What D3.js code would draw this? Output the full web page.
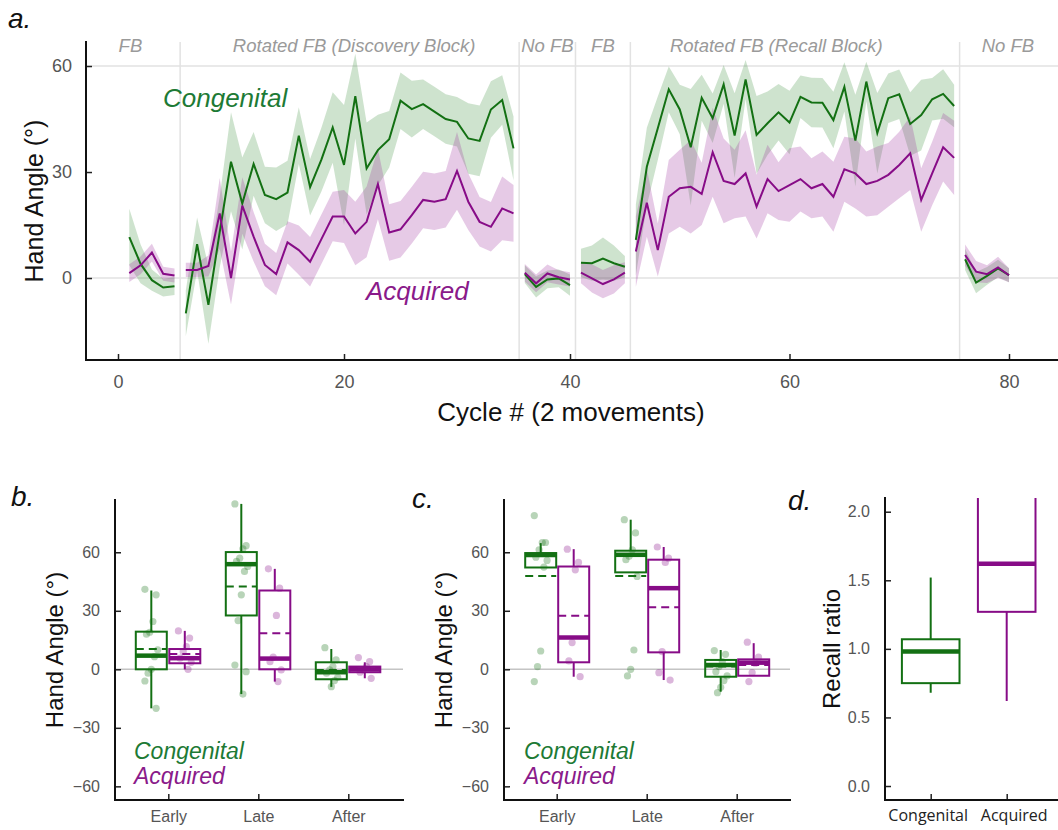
<!DOCTYPE html>
<html>
<head>
<meta charset="utf-8">
<script src="https://cdn.jsdelivr.net/npm/d3@7"></script>
<style>
  body { margin: 0; background: #fff; }
  svg { display: block; font-family: 'Liberation Sans', Arial, sans-serif; }
  .tick text { fill: #555; }
  .tick line { stroke: #222; stroke-width: 1.5; }
</style>
</head>
<body>
<svg id="chart" width="1058" height="830"></svg>
<script>
// ---- data ----
// panel a: blocks of cycles
const blockNames = ['FB', 'Rotated FB (Discovery Block)', 'No FB', 'FB', 'Rotated FB (Recall Block)', 'No FB'];
const blockStart = [1, 6, 36, 41, 46, 76];
const blockEnd = [5, 35, 40, 45, 75, 80];
const blockLabelAt = [1.1, 20.9, 38, 43, 58.8, 79.9];

const cycles = d3.range(1, 81);
const congMean = [
  11.6, 4, -0.6, -2.7, -2.3,
  -10, 9.6, -7.6, 13, 32.9, 21.1, 32.3, 23.5, 22.3, 24.2,
  40.3, 25.7, 33.5, 42.6, 32, 51.5, 31, 36.2, 39.3, 50.2,
  47.8, 49.2, 47.1, 45, 44.2, 39.5, 38.8, 47.7, 50.4, 36.7,
  1.1, -2.5, -0.4, -0.1, -2,
  4.3, 4.2, 5.5, 4.2, 3.2,
  10.8, 31.5, 42.4, 53.4, 47.7, 37, 51, 45.2, 54.8, 40.3,
  56.2, 40.5, 43.8, 46.9, 44, 51.3, 49.7, 49.6, 44.7, 54.1,
  38.9, 55.6, 41, 50.9, 52, 43.6, 46.1, 50.6, 52.1, 48.7,
  5.3, -1.3, 0.6, 2.7, 0.8
];
const congSE = [
  8, 5.5, 3, 2.5, 2.5,
  6.5, 7.5, 11, 10, 14, 13, 9, 8, 9, 9,
  8, 8, 9, 10, 17, 12, 13, 10, 8, 8,
  8, 7, 7, 7, 7, 10, 10, 8, 7, 9,
  2.5, 3, 2.5, 2.5, 3,
  4, 5, 6, 5, 3,
  10, 11, 9, 6.5, 7, 16.5, 6.5, 7, 5.5, 12,
  5.5, 11, 9, 8, 9, 6, 7, 7, 8, 7,
  13, 5.6, 11.4, 7, 7, 9, 10, 6, 7, 6,
  3, 3, 2.5, 2.5, 2
];
const acqMean = [
  1.4, 3.6, 7.2, 1.2, 0.7,
  2.3, 2.3, 3.4, 18.3, 0, 20.5, 11.7, 3.7, 1.1, 10.1,
  7.9, 4.6, 11, 17.4, 17.4, 12.6, 15.9, 26.6, 12.9, 13.8,
  17.8, 22.1, 21.6, 22.3, 30.3, 21.6, 15.9, 14.5, 19.7, 18.3,
  1.5, -1.5, 1.3, 0.2, -0.4,
  1.5, -0.1, -1.7, -0.4, 1.5,
  7.5, 21.3, 7.9, 23, 25.4, 25.8, 23.8, 35.6, 27.5, 26.6,
  29.6, 20.2, 28, 24.6, 26.3, 28, 25.4, 26.6, 23, 30.8,
  29.6, 26.6, 27.5, 29.2, 32, 35.3, 22.1, 29.6, 37, 34,
  6.5, 1.8, 1.1, 3, 0.8
];
const acqSE = [
  2.5, 2.5, 2.5, 2, 2,
  2, 2, 3, 10, 7.5, 8, 7, 6, 6, 6,
  7, 7, 7, 7, 7.5, 9, 10, 10, 8, 8,
  8, 8, 8, 8, 11, 8, 7, 7, 9, 8,
  2.5, 2.5, 2.5, 2, 2,
  3, 4, 4, 4, 3,
  10, 9.6, 7.5, 10.4, 10.9, 13.2, 8.8, 12.6, 12, 9.7,
  12.2, 9, 9.7, 8.2, 10.4, 9.2, 8.5, 9.2, 9.9, 9.2,
  9.9, 9.2, 9.7, 9, 9.4, 10.4, 9, 9, 9.7, 10.5,
  3, 3, 2.5, 3, 2
];

// panels b, c: [low whisker, q1, median, q3, high whisker, mean] per phase
const phases = ['Early', 'Late', 'After'];
const discCongBox = [[-20, 0, 7, 19.3, 40.4, 10.4], [-12.7, 27.6, 53.9, 60.1, 84.8, 42.5], [-9, -5.1, -1.5, 3.6, 10.4, -0.3]];
const discAcqBox = [[0, 3.1, 5.7, 10.4, 19.7, 7.9], [-6.3, 0, 5.5, 40.4, 51.5, 18.5], [-4.6, -1.5, 0, 1.4, 3.6, 0.5]];
const discCongDots = [[41, 38.2, 24.5, 19, 18, 10, 6.5, 0, -2, -6, -20], [84.8, 63.4, 61.8, 57, 55.3, 52.7, 50.2, 38.2, 25, 2.2, -1.2, -12.7], [11.1, 4.8, 1.4, -0.3, -2, -4.1, -5.8, -8.9]];
const discAcqDots = [[19.7, 16, 11.6, 9, 5.7, 3.6, 0], [51.5, 41.6, 27.6, 6.2, 3.9, -0.3, -6.3], [6, 3.9, 1.4, -0.3, -1.5, -4.6]];

const recCongBox = [[52.2, 52.2, 58.6, 59.6, 64.7, 47.9], [49.7, 49.7, 58.7, 60.8, 76.7, 47.9], [-11.5, -3.8, 2.2, 4.8, 9.9, 1.4]];
const recAcqBox = [[-3.8, 3.6, 16.3, 52.7, 61.6, 27.4], [-5.5, 8.7, 41.6, 56.2, 62.7, 31.8], [-3.3, -3.3, 3.4, 5.1, 13.4, 2.2]];
const recCongDots = [[78.8, 65, 65, 61.3, 57.5, 55.8, 52.4, 9.4, 1.4, -6.3], [76.7, 69.9, 61.3, 57.9, 56.2, 47.6, 9.9, 0, -3.4], [9.6, 7.7, 3.9, 1.4, -1.2, -3.4, -5.8, -9.2, -12]];
const recAcqDots = [[61.6, 54.8, 51, 13.7, 4.3, -3.8], [62.7, 57, 54.8, 9.1, -1.7, -5.5], [13.9, 6.2, 3.1, -1.7, -6.3]];

// panel d: [low whisker, q1, median, q3, high whisker]
const groups = ['Congenital', 'Acquired'];
const ratioBox = [[0.68, 0.75, 0.98, 1.07, 1.52], [0.62, 1.27, 1.62, 2.4, 2.9]];

// ---- styles ----
const green = '#137013';
const purple = '#870c87';
const greenText = '#1d7a35';
const purpleText = '#8a1a8a';

const svg = d3.select('#chart');

function styleAxis(g, size) {
  g.attr('font-family', null).attr('font-size', size);
  g.select('.domain').remove();
}

function axisLine(g, x1, y1, x2, y2) {
  g.append('line')
    .attr('x1', x1).attr('y1', y1).attr('x2', x2).attr('y2', y2)
    .attr('stroke', '#111').attr('stroke-width', 2)
    .attr('stroke-linecap', 'square');
}

function label(g, text, x, y, opts) {
  const o = opts || {};
  const t = g.append('text').attr('x', x).attr('y', y).text(text)
    .attr('font-size', o.size || 16)
    .attr('fill', o.fill || '#111')
    .attr('text-anchor', o.anchor || 'start');
  if (o.italic) t.attr('font-style', 'italic');
  if (o.rotate) t.attr('transform', `rotate(-90,${x},${y})`);
  if (o.family) t.attr('font-family', o.family);
  return t;
}

// ---- panel a ----
const xA = d3.scaleLinear().domain([0, 40, 80]).range([118, 570, 1009]);
const yA = d3.scaleLinear().domain([-23.2, 66.8]).range([360, 42]);
const gA = svg.append('g');

gA.selectAll('.grid')
  .data([0, 60])
  .enter()
  .append('line')
  .attr('x1', 86).attr('x2', 1058)
  .attr('y1', d => yA(d)).attr('y2', d => yA(d))
  .attr('stroke', '#e2e2e2').attr('stroke-width', 1.5);

gA.selectAll('.sep')
  .data(blockEnd.slice(0, -1))
  .enter()
  .append('line')
  .attr('x1', d => xA(d + 0.5)).attr('x2', d => xA(d + 0.5))
  .attr('y1', 42).attr('y2', 360)
  .attr('stroke', '#e2e2e2').attr('stroke-width', 1.5);

gA.selectAll('.block-label')
  .data(blockNames)
  .enter()
  .append('text')
  .attr('x', (d, i) => xA(blockLabelAt[i]))
  .attr('y', 52)
  .attr('text-anchor', 'middle')
  .attr('font-style', 'italic')
  .attr('font-size', 18.5)
  .attr('fill', '#9a9a9a')
  .text(d => d);

const series = [
  { mean: congMean, se: congSE, color: green, band: '#3a8f3a' },
  { mean: acqMean, se: acqSE, color: purple, band: '#9a2a9a' }
];

const area = d3.area()
  .x(d => xA(d.c))
  .y0(d => yA(d.m - d.s))
  .y1(d => yA(d.m + d.s));
const line = d3.line()
  .x(d => xA(d.c))
  .y(d => yA(d.m));

function blockPoints(s, b) {
  return cycles
    .map((c, i) => ({ c, m: s.mean[i], s: s.se[i] }))
    .filter(d => d.c >= blockStart[b] && d.c <= blockEnd[b]);
}

series.forEach(s => {
  blockNames.forEach((n, b) => {
    gA.append('path')
      .attr('d', area(blockPoints(s, b)))
      .attr('fill', s.band)
      .attr('fill-opacity', 0.25);
  });
});
series.forEach(s => {
  blockNames.forEach((n, b) => {
    gA.append('path')
      .attr('d', line(blockPoints(s, b)))
      .attr('fill', 'none')
      .attr('stroke', s.color)
      .attr('stroke-width', 2);
  });
});

gA.append('g')
  .attr('transform', 'translate(86,0)')
  .call(d3.axisLeft(yA).tickValues([0, 30, 60]).tickSizeInner(-6).tickSizeOuter(0).tickPadding(14))
  .call(g => styleAxis(g, 18));
gA.append('g')
  .attr('transform', 'translate(0,360)')
  .call(d3.axisBottom(xA).tickValues([0, 20, 40, 60, 80]).tickSizeInner(-6).tickSizeOuter(0).tickPadding(15))
  .call(g => styleAxis(g, 18));
axisLine(gA, 86, 42, 86, 360);
axisLine(gA, 86, 360, 1058, 360);

label(gA, 'Hand Angle (°)', 43, 201, { size: 25, rotate: true, anchor: 'middle' });
label(gA, 'Cycle # (2 movements)', 571, 421, { size: 26, anchor: 'middle' });
label(gA, 'Congenital', 163, 107, { size: 26, italic: true, fill: greenText });
label(gA, 'Acquired', 366, 300, { size: 26, italic: true, fill: purpleText });
label(gA, 'a.', 8, 28, { size: 28, italic: true });

// ---- boxes ----
function drawBox(g, cx, w, st, color, y, clipId) {
  const [lo, q1, med, q3, hi, mean] = st;
  const bg = g.append('g');
  if (clipId) bg.attr('clip-path', `url(#${clipId})`);
  bg.append('line')
    .attr('x1', cx).attr('x2', cx).attr('y1', y(lo)).attr('y2', y(q1))
    .attr('stroke', color).attr('stroke-width', 2);
  bg.append('line')
    .attr('x1', cx).attr('x2', cx).attr('y1', y(q3)).attr('y2', y(hi))
    .attr('stroke', color).attr('stroke-width', 2);
  bg.append('rect')
    .attr('x', cx - w / 2).attr('width', w)
    .attr('y', y(q3)).attr('height', y(q1) - y(q3))
    .attr('fill', 'none').attr('stroke', color).attr('stroke-width', 2);
  bg.append('line')
    .attr('x1', cx - w / 2).attr('x2', cx + w / 2).attr('y1', y(med)).attr('y2', y(med))
    .attr('stroke', color).attr('stroke-width', 4.5);
  if (mean !== undefined) {
    bg.append('line')
      .attr('x1', cx - w / 2).attr('x2', cx + w / 2).attr('y1', y(mean)).attr('y2', y(mean))
      .attr('stroke', color).attr('stroke-width', 2)
      .attr('stroke-dasharray', '8,5');
  }
}

function drawDots(g, cx, vals, color, y) {
  g.selectAll(null)
    .data(vals)
    .enter()
    .append('circle')
    .attr('cx', (d, i) => cx + ((i * 7) % 9 - 4) * 1.6)
    .attr('cy', d => y(d))
    .attr('r', 3.6)
    .attr('fill', color)
    .attr('fill-opacity', 0.3);
}

function boxPanel(opts) {
  const g = svg.append('g');
  const y = d3.scaleLinear().domain([-67, 86.8]).range([800, 500]);
  const x = d3.scalePoint().domain(phases).range([opts.x0, opts.x0 + 180]);

  g.append('line')
    .attr('x1', opts.axisX).attr('x2', opts.axisEnd)
    .attr('y1', y(0)).attr('y2', y(0))
    .attr('stroke', '#c4c4c4').attr('stroke-width', 1.5);

  phases.forEach((p, i) => {
    drawDots(g, x(p) + opts.off[0], opts.congDots[i], green, y);
    drawDots(g, x(p) + opts.off[1], opts.acqDots[i], purple, y);
    drawBox(g, x(p) + opts.off[0], 31, opts.congBox[i], green, y);
    drawBox(g, x(p) + opts.off[1], 31, opts.acqBox[i], purple, y);
  });

  g.append('g')
    .attr('transform', `translate(${opts.axisX},0)`)
    .call(d3.axisLeft(y).tickValues([-60, -30, 0, 30, 60]).tickSizeInner(-6).tickSizeOuter(0).tickPadding(15))
    .call(a => styleAxis(a, 16));
  g.append('g')
    .attr('transform', 'translate(0,800)')
    .call(d3.axisBottom(x).tickSizeInner(-6).tickSizeOuter(0).tickPadding(11))
    .call(a => styleAxis(a, 16));
  axisLine(g, opts.axisX, 500, opts.axisX, 800);
  axisLine(g, opts.axisX, 800, opts.axisEnd, 800);

  label(g, 'Hand Angle (°)', opts.titleX, 650, { size: 24, rotate: true, anchor: 'middle' });
  label(g, 'Congenital', opts.legendX, 759, { size: 23, italic: true, fill: greenText });
  label(g, 'Acquired', opts.legendX, 784, { size: 23, italic: true, fill: purpleText });
  label(g, opts.letter, opts.letterX, opts.letterY, { size: 28, italic: true });
}

boxPanel({
  x0: 168.3, axisX: 115, axisEnd: 403, off: [-17, 16.5],
  congBox: discCongBox, acqBox: discAcqBox, congDots: discCongDots, acqDots: discAcqDots,
  titleX: 63, legendX: 134, letter: 'b.', letterX: 11, letterY: 506
});
boxPanel({
  x0: 556.7, axisX: 504, axisEnd: 790, off: [-16, 17],
  congBox: recCongBox, acqBox: recAcqBox, congDots: recCongDots, acqDots: recAcqDots,
  titleX: 452, legendX: 524, letter: 'c.', letterX: 412, letterY: 508
});

// ---- panel d ----
const gD = svg.append('g');
const yD = d3.scaleLinear().domain([-0.102, 2.1]).range([800, 498]);
const xD = d3.scalePoint().domain(groups).range([930.7, 1006.7]);

gD.append('clipPath').attr('id', 'clipD')
  .append('rect').attr('x', 880).attr('y', 498).attr('width', 178).attr('height', 302);

drawBox(gD, xD('Congenital'), 57.6, ratioBox[0], green, yD, 'clipD');
drawBox(gD, xD('Acquired'), 57.6, ratioBox[1], purple, yD, 'clipD');

gD.append('g')
  .attr('transform', 'translate(885,0)')
  .call(d3.axisLeft(yD).tickValues([0, 0.5, 1, 1.5, 2]).tickFormat(d3.format('.1f')).tickSizeInner(-6).tickSizeOuter(0).tickPadding(15))
  .call(a => styleAxis(a, 16));
gD.append('g')
  .attr('transform', 'translate(0,800)')
  .call(d3.axisBottom(xD).tickSizeInner(-6).tickSizeOuter(0).tickPadding(10))
  .call(a => {
    styleAxis(a, 16);
    a.attr('font-family', "'Open Sans', sans-serif");
    a.selectAll('.tick text')
      .style('fill', '#222')
      .attr('dx', d => (d === 'Acquired' ? 7 : -3));
  });
axisLine(gD, 885, 498, 885, 800);
axisLine(gD, 885, 800, 1058, 800);

label(gD, 'Recall ratio', 840, 649, { size: 24, rotate: true, anchor: 'middle' });
label(gD, 'd.', 788, 510, { size: 28, italic: true });
</script>
</body>
</html>
